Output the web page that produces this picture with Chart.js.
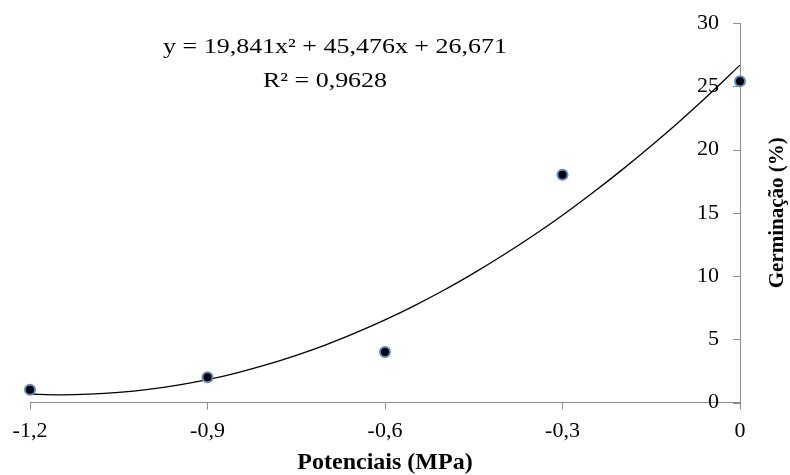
<!DOCTYPE html>
<html><head><meta charset="utf-8">
<script src="https://cdn.jsdelivr.net/npm/chart.js@4/dist/chart.umd.min.js"></script>
<style>html,body{margin:0;padding:0;background:#fff}#wrap{width:790px;height:475px;position:relative}</style>
</head><body><div id="wrap"><canvas id="c" width="790" height="475"></canvas></div>
<script>
const potenciais = [-1.2, -0.9, -0.6, -0.3, 0];
const germinacao = [1.0, 2.0, 4.0, 18.0, 25.4];
const trendX = [-1.2, -1.15, -1.1, -1.05, -1.0, -0.95, -0.9, -0.85, -0.8, -0.75, -0.7, -0.65, -0.6, -0.55, -0.5, -0.45, -0.4, -0.35, -0.3, -0.25, -0.2, -0.15, -0.1, -0.05, 0];
const trendY = [0.67, 0.61, 0.66, 0.80, 1.04, 1.38, 1.81, 2.35, 2.99, 3.73, 4.56, 5.50, 6.53, 7.66, 8.89, 10.23, 11.66, 13.18, 14.81, 16.54, 18.37, 20.30, 22.32, 24.45, 26.67];
const xTickValues = [-1.2, -0.9, -0.6, -0.3, 0];
const xTickLabels = ['-1,2', '-0,9', '-0,6', '-0,3', '0'];
const yTickValues = [0, 5, 10, 15, 20, 25, 30];
const yTickLabels = ['0', '5', '10', '15', '20', '25', '30'];
const equationLines = ['y = 19,841x² + 45,476x + 26,671', 'R² = 0,9628'];
const xTitle = 'Potenciais (MPa)';
const yTitle = 'Germinação (%)';

const SERIF = '"Liberation Serif", "Times New Roman", serif';
const AXIS_GREY = '#8c8c8c';

const pointsData = potenciais.map((x, i) => ({x: x, y: germinacao[i]}));
const trendData = trendX.map((x, i) => ({x: x, y: trendY[i]}));

const extras = {
  id: 'extras',
  afterDraw(chart) {
    const ctx = chart.ctx;
    const ys = chart.scales.y;
    const area = chart.chartArea;
    ctx.save();
    // left-pointing tick marks on the y axis
    ctx.strokeStyle = AXIS_GREY;
    ctx.lineWidth = 1;
    yTickValues.forEach(v => {
      const py = Math.round(ys.getPixelForValue(v)) + 0.5;
      ctx.beginPath();
      ctx.moveTo(area.right - 7, py);
      ctx.lineTo(area.right, py);
      ctx.stroke();
    });
    // rotated y title on the right
    ctx.fillStyle = '#000';
    ctx.font = 'bold 21px ' + SERIF;
    ctx.textAlign = 'center';
    ctx.textBaseline = 'middle';
    ctx.translate(778, (area.top + area.bottom) / 2);
    ctx.rotate(-Math.PI / 2);
    ctx.fillText(yTitle, 0, 0);
    ctx.restore();
    // equation text (slightly widened glyphs as in the source)
    ctx.save();
    ctx.fillStyle = '#000';
    ctx.font = '22px ' + SERIF;
    ctx.textAlign = 'center';
    ctx.textBaseline = 'middle';
    ctx.translate(335, 47);
    ctx.scale(1.18, 1);
    ctx.fillText(equationLines[0], 0, 0);
    ctx.fillText(equationLines[1], -10 / 1.18, 34);
    ctx.restore();
  }
};

new Chart(document.getElementById('c'), {
  type: 'scatter',
  data: {
    datasets: [
      {
        type: 'scatter', data: pointsData, order: 0, clip: false,
        pointRadius: 5, pointHoverRadius: 5, pointBorderWidth: 2,
        backgroundColor: '#000', borderColor: '#5a8bc8'
      },
      {
        type: 'line', data: trendData, order: 1, clip: false,
        showLine: true, borderColor: '#000', borderWidth: 1.3,
        pointRadius: 0, tension: 0.3, fill: false
      }
    ]
  },
  options: {
    responsive: false, animation: false, devicePixelRatio: 1,
    layout: {padding: {left: 30, right: 50, top: 23, bottom: 0}},
    plugins: {legend: {display: false}, tooltip: {enabled: false}},
    scales: {
      x: {
        type: 'linear', position: 'bottom', min: -1.2, max: 0,
        afterBuildTicks: s => { s.ticks = xTickValues.map(v => ({value: v})); },
        afterFit: s => { s.height = 72.5; },
        ticks: {
          callback: (v, i) => xTickLabels[i],
          font: {family: SERIF, size: 22}, color: '#000', padding: 9,
          maxRotation: 0, autoSkip: false
        },
        grid: {display: true, drawOnChartArea: false, drawTicks: true, tickLength: 7, color: AXIS_GREY, lineWidth: 1},
        border: {display: true, color: AXIS_GREY, width: 1},
        title: {display: true, text: xTitle, font: {family: SERIF, size: 24, weight: 'bold', lineHeight: 1}, color: '#000', padding: {top: 6, bottom: 0}}
      },
      y: {
        type: 'linear', position: 'right', min: 0, max: 30,
        afterBuildTicks: s => { s.ticks = yTickValues.map(v => ({value: v})); },
        afterFit: s => { s.width = 0; },
        ticks: {
          callback: (v, i) => yTickLabels[i],
          mirror: true, padding: -21,
          font: {family: SERIF, size: 22}, color: '#000'
        },
        grid: {display: true, drawOnChartArea: false, drawTicks: false, color: AXIS_GREY, lineWidth: 1},
        border: {display: true, color: AXIS_GREY, width: 1}
      }
    }
  },
  plugins: [extras]
});
</script>
</body></html>
